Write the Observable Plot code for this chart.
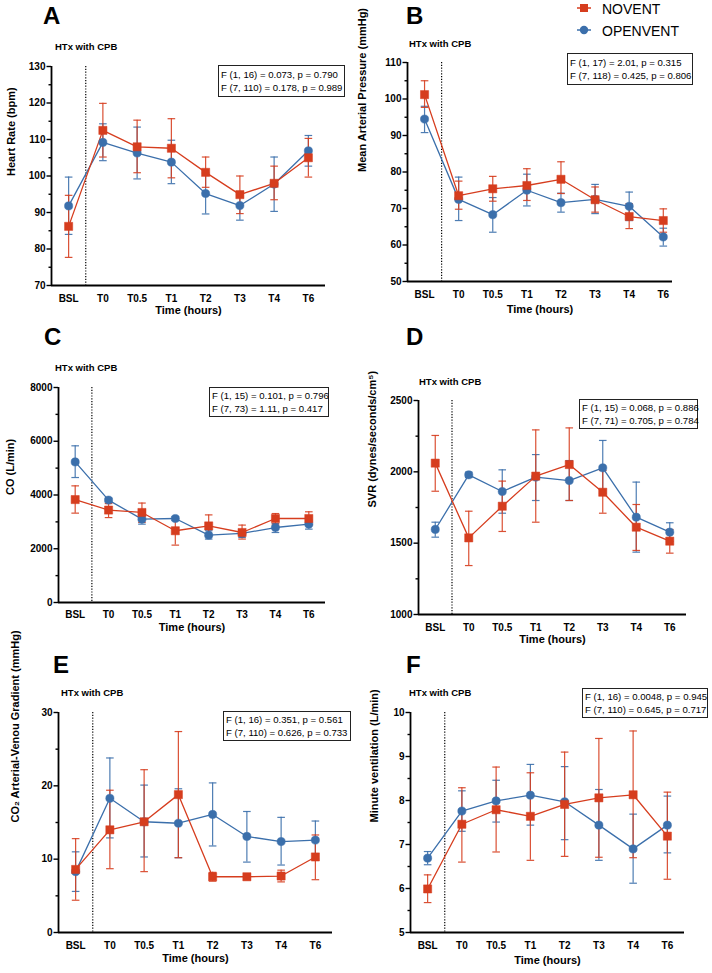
<!DOCTYPE html>
<html><head><meta charset="utf-8">
<script src="https://cdn.jsdelivr.net/npm/d3@7"></script>
<script src="https://cdn.jsdelivr.net/npm/@observablehq/plot@0.6"></script>
<style>
body{margin:0;background:#fff;font-family:"Liberation Sans",Arial,sans-serif;color:#000;}
#root{position:relative;width:712px;height:973px;overflow:hidden;background:#fff;}
.pl{position:absolute;}
.letter{position:absolute;font-weight:bold;font-size:24px;line-height:1;}
.sub{position:absolute;font-weight:bold;font-size:9.5px;line-height:1;white-space:nowrap;}
.stats{position:absolute;border:1px solid #222;font-size:9.6px;line-height:13px;padding:0 0 0 2px;box-sizing:border-box;white-space:nowrap;display:flex;flex-direction:column;justify-content:center;}
.leg{position:absolute;font-size:14px;line-height:14px;white-space:nowrap;}
</style></head><body><div id="root"></div>
<script>
// ---------- data ----------
const times = ["BSL","T0","T0.5","T1","T2","T3","T4","T6"];
const groups = ["NOVENT","OPENVENT"];

// A: Heart rate (bpm)
const hrNovent   = [86.2,112.5,108.0,107.6,101.0,94.9,98.0,105.0];
const hrNoventLo = [77.7,105.2,100.9,99.5,96.9,89.7,93.5,99.7];
const hrNoventHi = [94.7,119.9,115.3,115.7,105.2,100.0,102.7,110.3];
const hrOpen     = [91.8,109.2,106.3,103.8,95.2,91.9,97.8,106.9];
const hrOpenLo   = [84.0,104.2,99.2,97.9,89.6,87.9,90.3,102.7];
const hrOpenHi   = [99.7,114.3,113.4,109.8,100.8,95.6,105.2,111.1];

// B: Mean arterial pressure (mmHg)
const mapNovent   = [101.2,73.5,75.4,76.3,78.0,72.4,67.8,66.7];
const mapNoventLo = [97.7,69.8,72.0,72.2,74.1,69.0,64.5,63.5];
const mapNoventHi = [105.0,77.5,78.8,80.9,82.8,75.9,71.3,69.9];
const mapOpen     = [94.5,72.5,68.3,75.0,71.6,72.5,70.6,62.2];
const mapOpenLo   = [90.8,66.7,63.5,70.7,69.0,68.6,66.7,59.7];
const mapOpenHi   = [98.0,78.6,73.0,79.4,74.2,76.6,74.5,64.6];

// C: CO (L/min)
const coNovent   = [3830,3440,3350,2670,2850,2605,3125,3125];
const coNoventLo = [3325,3160,2980,2135,2480,2360,2915,2880];
const coNoventHi = [4340,3680,3700,3130,3260,2880,3310,3375];
const coOpen     = [5230,3810,3100,3125,2505,2570,2790,2915];
const coOpenLo   = [4650,3740,2915,3050,2360,2420,2605,2730];
const coOpenHi   = [5830,3880,3310,3200,2670,2700,2940,3065];

// D: SVR
const svrNovent   = [2061,1537,1759,1970,2051,1857,1612,1514];
const svrNoventLo = [1864,1343,1582,1647,1799,1710,1449,1430];
const svrNoventHi = [2255,1724,1935,2294,2308,2009,1771,1596];
const svrOpen     = [1596,1979,1862,1963,1939,2028,1682,1577];
const svrOpenLo   = [1542,1960,1710,1799,1799,1850,1437,1512];
const svrOpenHi   = [1647,1998,2014,2121,2079,2220,1928,1643];

// E: CO2 arterial-venous gradient (mmHg)
const co2Novent   = [8.6,14.0,15.1,18.8,7.6,7.6,7.7,10.3];
const co2NoventLo = [4.4,8.7,8.3,10.2,7.0,7.2,6.9,7.2];
const co2NoventHi = [12.8,19.4,22.2,27.4,8.2,8.0,8.5,13.3];
const co2Open     = [8.3,18.3,15.1,14.9,16.1,13.1,12.4,12.6];
const co2OpenLo   = [5.6,12.9,10.3,10.2,11.8,9.6,9.2,10.0];
const co2OpenHi   = [11.0,23.8,20.1,19.6,20.4,16.5,15.7,15.2];

// F: Minute ventilation (L/min)
const mvNovent   = [5.99,7.46,7.79,7.64,7.91,8.06,8.13,7.19];
const mvNoventLo = [5.68,6.60,6.83,6.64,6.73,6.71,6.70,6.21];
const mvNoventHi = [6.31,8.29,8.76,8.63,9.10,9.41,9.58,8.19];
const mvOpen     = [6.69,7.76,7.99,8.12,7.97,7.44,6.90,7.44];
const mvOpenLo   = [6.54,7.30,7.51,7.44,7.11,6.64,6.12,6.81];
const mvOpenHi   = [6.84,8.22,8.46,8.82,8.77,8.25,7.69,8.10];

// tick labels
const ticksA = [70,80,90,100,110,120,130], minorA = [75,85,95,105,115,125];
const ticksB = [50,60,70,80,90,100,110],  minorB = [55,65,75,85,95,105];
const ticksC = [0,2000,4000,6000,8000],   minorC = [1000,3000,5000,7000];
const ticksD = [1000,1500,2000,2500],     minorD = [1250,1750,2250];
const ticksE = [0,10,20,30],              minorE = [5,15,25];
const ticksF = [5,6,7,8,9,10],            minorF = [5.5,6.5,7.5,8.5,9.5];

const statsA = ["F (1, 16) = 0.073, p = 0.790","F (7, 110) = 0.178, p = 0.989"];
const statsB = ["F (1, 17) = 2.01, p = 0.315","F (7, 118) = 0.425, p = 0.806"];
const statsC = ["F (1, 15) = 0.101, p = 0.796","F (7, 73) = 1.11, p = 0.417"];
const statsD = ["F (1, 15) = 0.068, p = 0.886","F (7, 71) = 0.705, p = 0.784"];
const statsE = ["F (1, 16) = 0.351, p = 0.561","F (7, 110) = 0.626, p = 0.733"];
const statsF = ["F (1, 16) = 0.0048, p = 0.945","F (7, 110) = 0.645, p = 0.717"];

// ---------- layout & style ----------
const RED = "#d63d1e", BLUE = "#3b6fab";
const FONT = "'Liberation Sans', Arial, sans-serif";

const panels = [
  {letter:"A", left:0,   top:0,   h:330, ml:51, mr:31, mt:66, mb:45, xMax:7.5,  y:[70,130],  ticks:ticksA, minor:minorA, label:"Heart Rate (bpm)", ldx:-40, xdy:28, tp:9.5,
   nov:[hrNovent,hrNoventLo,hrNoventHi], open:[hrOpen,hrOpenLo,hrOpenHi], stats:statsA,
   letterPos:[43,3.7], subPos:[55,42.4], box:[218,65,127,32]},
  {letter:"B", left:356, top:0,   h:330, ml:51, mr:40, mt:62, mb:49, xMax:7.27, y:[50,110],  ticks:ticksB, minor:minorB, label:"Mean Arterial Pressure (mmHg)", ldx:-45, xdy:31, tp:9.5,
   nov:[mapNovent,mapNoventLo,mapNoventHi], open:[mapOpen,mapOpenLo,mapOpenHi], stats:statsB,
   letterPos:[406,3.7], subPos:[409,39.4], box:[567,53,126,32]},
  {letter:"C", left:0,   top:330, h:320, ml:58, mr:31, mt:57, mb:48, xMax:7.5,  y:[0,8000],  ticks:ticksC, minor:minorC, label:"CO (L/min)", ldx:-48, xdy:28, tp:8,
   nov:[coNovent,coNoventLo,coNoventHi], open:[coOpen,coOpenLo,coOpenHi], stats:statsC,
   letterPos:[44,324.7], subPos:[55,363.4], box:[209,387,120,30]},
  {letter:"D", left:356, top:330, h:320, ml:62, mr:26, mt:70, mb:36, xMax:7.5,  y:[1000,2500], ticks:ticksD, minor:minorD, label:"SVR (dynes/seconds/cm\u2075)", ldx:-46, xdy:28, tp:9.5,
   nov:[svrNovent,svrNoventLo,svrNoventHi], open:[svrOpen,svrOpenLo,svrOpenHi], stats:statsD,
   letterPos:[406,324.7], subPos:[419,377.4], box:[579,399,119,30]},
  {letter:"E", left:0,   top:650, h:323, ml:58, mr:24, mt:62, mb:41, xMax:7.5,  y:[0,30],    ticks:ticksE, minor:minorE, label:"CO\u2082 Arterial-Venou Gradient (mmHg)", ldx:-43, xdy:29, tp:9.5,
   nov:[co2Novent,co2NoventLo,co2NoventHi], open:[co2Open,co2OpenLo,co2OpenHi], stats:statsE,
   letterPos:[53,652.7], subPos:[61,688.4], box:[223,711,128,30]},
  {letter:"F", left:356, top:650, h:323, ml:54, mr:28, mt:62, mb:41, xMax:7.5,  y:[5,10],    ticks:ticksF, minor:minorF, label:"Minute ventilation (L/min)", ldx:-36, xdy:31, tp:9.5,
   nov:[mvNovent,mvNoventLo,mvNoventHi], open:[mvOpen,mvOpenLo,mvOpenHi], stats:statsF,
   letterPos:[406,652.7], subPos:[409,688.4], box:[582,688,126,30]}
];

// horizontal cap symbol for error bars
const capSymbol = {draw(ctx, size){ const w = Math.sqrt(size/Math.PI); ctx.moveTo(-w,0); ctx.lineTo(w,0); }};

const root = document.getElementById("root");

function rowsFor(arrs, group){
  const [m, lo, hi] = arrs;
  return times.map((t,i)=>({group, i, time:t, mean:m[i], lo:lo[i], hi:hi[i]}));
}

for (const p of panels){
  const nov = rowsFor(p.nov, "NOVENT");
  const open = rowsFor(p.open, "OPENVENT");
  const errMarks = (rows, color) => [
    Plot.ruleX(rows, {x:"i", y1:"lo", y2:"hi", stroke:color, strokeWidth:1.2, strokeOpacity:0.9}),
    Plot.dot(rows, {x:"i", y:"lo", symbol:capSymbol, r:3.8, stroke:color, fill:"none", strokeWidth:1.2, strokeOpacity:0.9}),
    Plot.dot(rows, {x:"i", y:"hi", symbol:capSymbol, r:3.8, stroke:color, fill:"none", strokeWidth:1.2, strokeOpacity:0.9})
  ];
  const chart = Plot.plot({
    width:356, height:p.h,
    marginLeft:p.ml, marginRight:p.mr, marginTop:p.mt, marginBottom:p.mb,
    style:{fontFamily:FONT, fontWeight:"bold", fontSize:"10px", background:"transparent", color:"#000", overflow:"visible"},
    x:{type:"linear", domain:[-0.5, p.xMax]},
    y:{type:"linear", domain:p.y},
    marks:[
      Plot.axisY({ticks:p.minor, tickSize:2.5, tickFormat:()=>"", label:null, strokeWidth:1.4}),
      Plot.axisY({ticks:p.ticks, tickSize:4.5, tickPadding:1.5, tickFormat:d=>String(d), label:null, strokeWidth:1.4, fontSize:10}),
      Plot.axisX({ticks:d3.range(times.length), tickSize:0, tickPadding:p.tp, tickFormat:i=>times[i], label:null, fontSize:10}),
      Plot.text([p.label], {frameAnchor:"left", rotate:-90, dx:p.ldx, fontSize:11, fontWeight:"bold"}),
      Plot.text(["Time (hours)"], {frameAnchor:"bottom", dy:p.xdy, fontSize:11, fontWeight:"bold"}),
      Plot.ruleX([0.5], {stroke:"#000", strokeWidth:1.2, strokeDasharray:"1.2,1.6"}),
      ...errMarks(open, BLUE),
      ...errMarks(nov, RED),
      Plot.line(open, {x:"i", y:"mean", stroke:BLUE, strokeWidth:1.3}),
      Plot.line(nov, {x:"i", y:"mean", stroke:RED, strokeWidth:1.3}),
      Plot.dot(open, {x:"i", y:"mean", symbol:"circle", r:4.1, fill:BLUE, stroke:BLUE, strokeWidth:0.5}),
      Plot.dot(nov, {x:"i", y:"mean", symbol:"square", r:4.6, fill:RED, stroke:RED, strokeWidth:0.5}),
      Plot.ruleX([-0.5], {stroke:"#000", strokeWidth:1.8}),
      Plot.ruleY([p.y[0]], {stroke:"#000", strokeWidth:1.8})
    ]
  });
  chart.classList.add("pl");
  chart.style.left = p.left + "px";
  chart.style.top = p.top + "px";
  root.appendChild(chart);

  const L = document.createElement("div");
  L.className = "letter"; L.textContent = p.letter;
  L.style.left = p.letterPos[0]+"px"; L.style.top = p.letterPos[1]+"px";
  root.appendChild(L);

  const S = document.createElement("div");
  S.className = "sub"; S.textContent = "HTx with CPB";
  S.style.left = p.subPos[0]+"px"; S.style.top = p.subPos[1]+"px";
  root.appendChild(S);

  const B = document.createElement("div");
  B.className = "stats";
  B.style.left = p.box[0]+"px"; B.style.top = p.box[1]+"px";
  B.style.width = p.box[2]+"px"; B.style.height = p.box[3]+"px";
  for (const line of p.stats){ const d = document.createElement("div"); d.textContent = line; B.appendChild(d); }
  root.appendChild(B);
}

// legend
const legColors = [RED, BLUE];
groups.forEach((g, k) => {
  const cy = k === 0 ? 8 : 30;
  const svgNS = "http://www.w3.org/2000/svg";
  const s = document.createElementNS(svgNS, "svg");
  s.setAttribute("width", 20); s.setAttribute("height", 14);
  s.style.position = "absolute"; s.style.left = "574px"; s.style.top = (cy-7)+"px";
  const ln = document.createElementNS(svgNS, "line");
  ln.setAttribute("x1", 3); ln.setAttribute("x2", 17); ln.setAttribute("y1", 7); ln.setAttribute("y2", 7);
  ln.setAttribute("stroke", legColors[k]); ln.setAttribute("stroke-width", 1.5);
  s.appendChild(ln);
  if (k === 0){
    const r = document.createElementNS(svgNS, "rect");
    r.setAttribute("x", 6); r.setAttribute("y", 3); r.setAttribute("width", 8); r.setAttribute("height", 8);
    r.setAttribute("fill", legColors[k]); s.appendChild(r);
  } else {
    const c = document.createElementNS(svgNS, "circle");
    c.setAttribute("cx", 10); c.setAttribute("cy", 7); c.setAttribute("r", 4.2);
    c.setAttribute("fill", legColors[k]); s.appendChild(c);
  }
  root.appendChild(s);
  const t = document.createElement("div");
  t.className = "leg"; t.textContent = g;
  t.style.left = "602px"; t.style.top = (cy - 6.5) + "px";
  root.appendChild(t);
});
</script></body></html>
